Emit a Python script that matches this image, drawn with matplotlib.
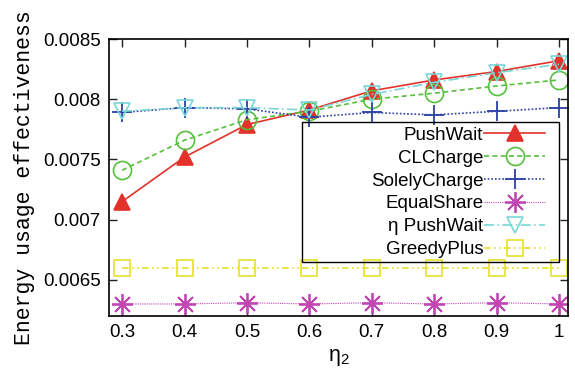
import matplotlib
matplotlib.use("Agg")
import matplotlib.pyplot as plt
from matplotlib.patches import Rectangle

# eta_2 values on the x axis
eta2 = [0.3, 0.4, 0.5, 0.6, 0.7, 0.8, 0.9, 1.0]

push_wait = [0.00715, 0.00752, 0.00779, 0.00791, 0.00807, 0.00816, 0.00823, 0.00832]
cl_charge = [0.00741, 0.00766, 0.00783, 0.00790, 0.00800, 0.00805, 0.00811, 0.00816]
solely_charge = [0.00789, 0.00793, 0.00792, 0.00785, 0.00789, 0.00787, 0.00790, 0.00793]
equal_share = [0.00630, 0.00630, 0.00631, 0.00630, 0.00631, 0.00630, 0.00631, 0.00630]
eta_push_wait = [0.00790, 0.00793, 0.00793, 0.00791, 0.00804, 0.00814, 0.00822, 0.00829]
greedy_plus = [0.00660, 0.00660, 0.00660, 0.00660, 0.00660, 0.00660, 0.00660, 0.00660]

yticks = [0.0065, 0.007, 0.0075, 0.008, 0.0085]
yticklabels = ["0.0065", "0.007", "0.0075", "0.008", "0.0085"]
xticklabels = ["0.3", "0.4", "0.5", "0.6", "0.7", "0.8", "0.9", "1"]

plt.rcParams['font.family'] = ['Liberation Sans', 'DejaVu Sans']

fig = plt.figure(figsize=(5.75, 3.73), dpi=100)
ax = fig.add_axes([0.1896, 0.1528, 0.7982, 0.7426])

series = [
    (push_wait, "PushWait", dict(color="#e3322b", ls="-", marker="^", ms=12, mfc="#e3322b")),
    (cl_charge, "CLCharge", dict(color="#55c03c", ls=(0, (3, 2)), marker="o", ms=13, mfc="none")),
    (solely_charge, "SolelyCharge", dict(color="#2b3fa6", ls=(0, (1, 1.2)), marker="+", ms=14, mew=1.3)),
    (equal_share, "EqualShare", dict(color="#c245b4", ls=(0, (1, 1)), marker=(8, 2, 0), ms=15, mew=1.3, lw=0.8)),
    (eta_push_wait, "\u03b7 PushWait", dict(color="#79d6d6", ls=(0, (6, 2, 1, 2)), marker="v", ms=12, mfc="none")),
    (greedy_plus, "GreedyPlus", dict(color="#e6e02a", ls=(0, (4, 2, 1, 2, 1, 2)), marker="s", ms=12, mfc="none")),
]

for vals, name, st in series:
    st.setdefault("lw", 1.2)
    st.setdefault("mew", 1.2)
    ax.plot(eta2, vals, label=name, **st)

ax.set_xlim(0.279, 1.0145)
ax.set_ylim(0.0062, 0.0085)
ax.set_xticks(eta2)
ax.set_xticklabels(xticklabels)
ax.set_yticks(yticks)
ax.set_yticklabels(yticklabels)
ax.tick_params(direction="in", length=6, width=1, top=True, right=True,
               labelsize=13.5, pad=6, colors="#222222", labelcolor="black")
for sp in ax.spines.values():
    sp.set_linewidth(1.2)

ax.set_ylabel("Energy usage effectiveness", family="Liberation Mono",
              fontsize=15.5, labelpad=6)
ax.set_xlabel(r"$\mathregular{\eta_2}$", fontsize=15.5, labelpad=4)

# key entries right-aligned against their samples, boxed by a wider frame
leg = ax.legend(loc="upper right", bbox_to_anchor=(0.95, 0.684),
                markerfirst=False, frameon=False, fontsize=13.5,
                handlelength=3.25, handletextpad=0.05, labelspacing=0.31,
                borderpad=0, borderaxespad=0)
ax.add_patch(Rectangle((0.4205, 0.1949), 0.5599, 0.5054, transform=ax.transAxes,
                       fill=False, edgecolor="black", lw=1.0, zorder=5))

fig.savefig("out.png", dpi=100)
